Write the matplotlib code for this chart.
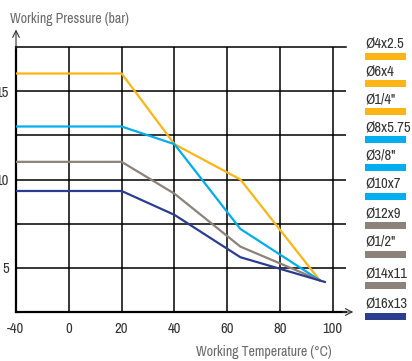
import matplotlib
matplotlib.use("Agg")
import matplotlib.pyplot as plt
import numpy as np
from matplotlib import font_manager
from matplotlib.patches import Rectangle

# ---- data ----
temps_yellow = [-40, 20, 40, 65, 95]
press_yellow = [16, 16, 12, 10, 4.3]
temps_cyan = [-40, 20, 40, 65, 95]
press_cyan = [13, 13, 12, 7.2, 4.3]
temps_gray = [-40, 20, 40, 65, 95]
press_gray = [11, 11, 9.2, 6.2, 4.3]
temps_navy = [-40, 20, 40, 65, 97]
press_navy = [9.35, 9.35, 8.0, 5.6, 4.2]

x_ticks = [-40, 0, 20, 40, 60, 80, 100]
y_ticks = [5, 10, 15]
legend_labels = ["Ø4x2.5", "Ø6x4", "Ø1/4\"", "Ø8x5.75", "Ø3/8\"",
                 "Ø10x7", "Ø12x9", "Ø1/2\"", "Ø14x11", "Ø16x13"]

YELLOW = "#FDB515"
CYAN = "#00AEEF"
GRAY = "#8C8279"
NAVY = "#2B3D8F"
legend_colors = [YELLOW] * 3 + [CYAN] * 3 + [GRAY] * 3 + [NAVY]

# pick a narrow font if one is installed
fonts = font_manager.fontManager.ttflist
names = {f.name for f in fonts}
stretch = "normal"
narrow = [n for n in names if "Narrow" in n or "Condensed" in n]
if "Liberation Sans Narrow" in names:
    fam = "Liberation Sans Narrow"
    scale = 1.0
elif narrow:
    fam = sorted(narrow)[0]
    scale = 1.0
elif any(f.name == "DejaVu Sans" and str(f.stretch) in ("condensed", "semi-condensed", "500", "300")
         for f in fonts):
    fam = "DejaVu Sans"
    stretch = "condensed"
    scale = 0.95
else:
    fam = "Liberation Sans"
    scale = 0.9
plt.rcParams["font.family"] = [fam, "DejaVu Sans"]
plt.rcParams["font.stretch"] = stretch

W, H = 412, 361
fig = plt.figure(figsize=(W / 100, H / 100), dpi=100)
ax = fig.add_axes([16 / W, 49 / H, 330 / W, 265 / H])


def fwd(x):
    x = np.asarray(x, dtype=float)
    return np.where(x < 0, x / 2.0, x)


def inv(x):
    x = np.asarray(x, dtype=float)
    return np.where(x < 0, x * 2.0, x)


ax.set_xscale("function", functions=(fwd, inv))
ax.set_xlim(-40, 105)
ax.set_ylim(2.5, 17.5)

for t, p, c in [(temps_yellow, press_yellow, YELLOW), (temps_cyan, press_cyan, CYAN),
                (temps_gray, press_gray, GRAY), (temps_navy, press_navy, NAVY)]:
    ax.plot(t, p, color=c, lw=1.6, zorder=3, solid_joinstyle="miter")

ax.set_xticks(x_ticks)
ax.set_xticklabels([str(v) for v in x_ticks])
ax.set_xticks([], minor=True)
ax.set_yticks(y_ticks)
ax.set_yticks([7.5, 12.5], minor=True)
ax.tick_params(axis="both", which="both", length=0, labelsize=10.5 * scale, colors="#333333")
ax.tick_params(axis="x", pad=7)
ax.tick_params(axis="y", pad=5)
ax.grid(True, which="both", color="black", lw=1.1)

ax.spines["right"].set_visible(False)
ax.spines["top"].set_linewidth(1.1)
ax.spines["left"].set_linewidth(1.6)
ax.spines["bottom"].set_linewidth(1.6)

# axis arrows
ax.annotate("", xy=(0, 1.066), xytext=(0, 0.995), xycoords="axes fraction",
            arrowprops=dict(arrowstyle="->", lw=0.8, color="#333333",
                            mutation_scale=12, shrinkA=0, shrinkB=0), annotation_clip=False)
ax.annotate("", xy=(1.022, 0), xytext=(0.99, 0), xycoords="axes fraction",
            arrowprops=dict(arrowstyle="->", lw=0.8, color="#333333",
                            mutation_scale=12, shrinkA=0, shrinkB=0), annotation_clip=False)

fig.text(10 / W, 1 - 19 / H, "Working Pressure (bar)", fontsize=10 * scale, color="#6a6a6a",
         ha="left", va="center")
fig.text(264 / W, 1 - 352 / H, "Working Temperature (°C)", fontsize=10 * scale, color="#6a6a6a",
         ha="center", va="center")

# legend
text_y = [44, 71, 99, 127, 155, 184, 213, 242, 273, 304]
for lab, col, ty in zip(legend_labels, legend_colors, text_y):
    fig.text(365 / W, 1 - ty / H, lab, fontsize=10.5 * scale, color="#333333",
             ha="left", va="center")
    fig.patches.append(Rectangle((365 / W, 1 - (ty + 16) / H), 41 / W, 7 / H,
                                 transform=fig.transFigure, color=col, lw=0))

fig.savefig("out.png", dpi=100)
